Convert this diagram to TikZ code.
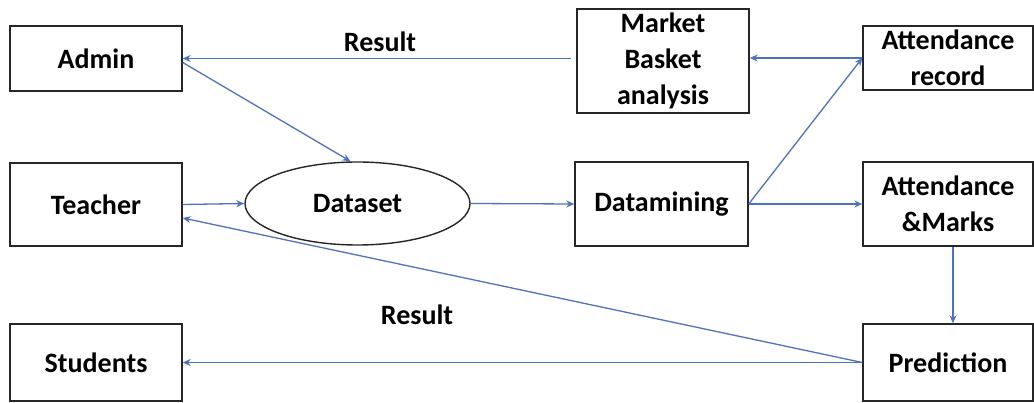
\documentclass[tikz,border=0pt]{standalone}
\usepackage{fontspec}
\setmainfont{Carlito}
\usetikzlibrary{arrows.meta,calc,shapes.geometric}
\definecolor{flow}{HTML}{4F72BC}
\definecolor{edge}{HTML}{262626}
\tikzset{
  txt/.style={font=\fontsize{28}{36}\selectfont\bfseries},
  box/.style={txt,draw=edge,line width=1.4pt,rectangle,align=center,inner sep=0pt},
  oval/.style={txt,draw=edge,line width=1.4pt,ellipse,inner sep=0pt},
  arr/.style={draw=flow,line width=1.3pt,-{Stealth[length=8pt,width=7pt]}},
}
\begin{document}
\begin{tikzpicture}[x=1pt,y=-1pt]
\useasboundingbox (0,0) rectangle (1034,403);
% left column
\node[box,minimum width=172pt,minimum height=65pt] (adm) at (96,58.5) {Admin};
\node[box,minimum width=172pt,minimum height=83pt] (tch) at (96,204.5) {Teacher};
\node[box,minimum width=172pt,minimum height=77pt] (stu) at (96,362.5) {Students};
% middle
\node[oval,minimum width=225pt,minimum height=83pt] (ds) at (357.5,203.5) {Dataset};
\node[box,minimum width=173pt,minimum height=84pt] (dm) at (661.5,204) {Datamining};
\node[box,minimum width=172pt,minimum height=104pt] (mb) at (663,61) {Market\\Basket\\analysis};
% right column
\node[box,minimum width=170pt,minimum height=64pt] (ar) at (948,58) {Attendance\\record};
\node[box,minimum width=170pt,minimum height=84pt] (am) at (948,204) {Attendance\\\&Marks};
\node[box,minimum width=170pt,minimum height=77pt] (pr) at (948,362.5) {Prediction};
% labels
\node[txt] (r1) at (380,42) {Result};
\node[txt] (r2) at (417,315) {Result};
% connectors
\draw[arr,shorten <=5pt] (adm.east -| mb.west) -- (adm.east);
\draw[arr] ($(adm.east)+(0,4)$) -- ($(ds.north)+(-7,0)$);
\draw[arr] (tch.east) -- (ds.west);
\draw[arr] (ds.east) -- (dm.west);
\draw[arr] (dm.east) -- (ar.west);
\draw[arr] (ar.west) -- (ar.west -| mb.east);
\draw[arr] (dm.east) -- (am.west);
\draw[arr] ($(am.south)+(5,0)$) -- ($(pr.north)+(5,0)$);
\draw[arr] (pr.west) -- ($(tch.east)+(0,13.5)$);
\draw[arr] (pr.west) -- (pr.west -| stu.east);
\end{tikzpicture}
\end{document}
